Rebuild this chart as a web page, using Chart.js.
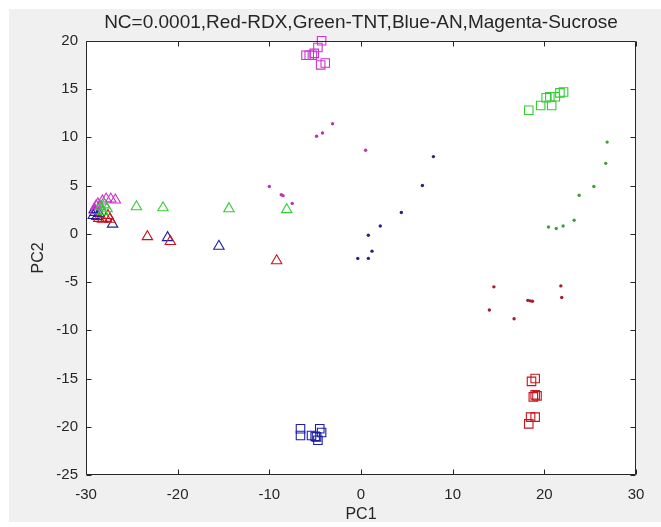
<!DOCTYPE html>
<html>
<head>
<meta charset="utf-8">
<script src="https://cdn.jsdelivr.net/npm/chart.js@4"></script>
<style>
  html, body { margin: 0; padding: 0; background: #ffffff; }
  #wrap { width: 661px; height: 527px; }
</style>
</head>
<body>
<div id="wrap"><canvas id="pcaChart" width="661" height="527"></canvas></div>
<script>
// axis ticks
const xTicks = [-30, -20, -10, 0, 10, 20, 30];
const yTicks = [-25, -20, -15, -10, -5, 0, 5, 10, 15, 20];

// squares
const redSquares = [[18.6, -15.3], [19.0, -15.0], [19.0, -16.7], [19.2, -16.8], [18.8, -16.9], [18.5, -19.0], [19.0, -19.0], [18.3, -19.7]];
const greenSquares = [[18.3, 12.8], [19.6, 13.3], [20.2, 14.1], [20.8, 13.3], [20.6, 14.2], [21.2, 14.2], [21.7, 14.6], [22.1, 14.7]];
const blueSquares = [[-6.6, -20.2], [-6.6, -20.9], [-5.4, -20.9], [-5.0, -21.0], [-4.5, -20.2], [-4.3, -20.6], [-4.85, -21.05], [-4.7, -21.4]];
const magentaSquares = [[-4.3, 20.0], [-4.7, 19.3], [-5.1, 18.7], [-6.0, 18.5], [-5.65, 18.5], [-5.3, 18.5], [-4.4, 17.5], [-3.9, 17.7]];

// dots
const redDots = [[14.5, -5.5], [14.0, -7.9], [16.7, -8.8], [18.2, -6.9], [18.7, -7.0], [21.8, -5.4], [21.9, -6.6], [18.45, -6.95]];
const greenDots = [[26.85, 9.5], [26.7, 7.3], [25.4, 4.9], [23.8, 4.0], [23.25, 1.4], [22.05, 0.8], [21.3, 0.55], [20.45, 0.7]];
const blueDots = [[7.9, 8.0], [6.7, 5.0], [4.4, 2.2], [2.1, 0.8], [0.8, -0.15], [1.2, -1.8], [-0.35, -2.55], [0.8, -2.55]];
const magentaDots = [[-3.1, 11.4], [-4.2, 10.45], [-4.85, 10.1], [0.5, 8.65], [-10.0, 4.9], [-8.7, 4.05], [-8.5, 3.95], [-7.5, 3.15]];

// triangles
const redTriangles = [[-28.6, 1.6], [-28.2, 1.5], [-27.8, 1.6], [-27.4, 1.5], [-27.6, 1.9], [-23.3, -0.3], [-20.8, -0.8], [-9.2, -2.8]];
const greenTriangles = [[-28.4, 2.8], [-28.0, 3.0], [-27.7, 2.6], [-28.2, 2.3], [-24.5, 2.8], [-21.6, 2.7], [-14.4, 2.6], [-8.1, 2.5]];
const blueTriangles = [[-29.2, 1.9], [-29.0, 2.2], [-28.8, 1.8], [-29.1, 2.5], [-28.6, 2.1], [-27.1, 1.0], [-21.1, -0.4], [-15.5, -1.3]];
const magentaTriangles = [[-28.9, 2.9], [-28.5, 2.8], [-28.2, 3.4], [-27.8, 3.6], [-27.3, 3.6], [-26.8, 3.5], [-29.0, 2.4], [-28.7, 3.1]];

const colors = {
    red: '#c8141e',
    green: '#33cc33',
    blue: '#1e1eaa',
    magenta: '#cc33cc'
};
const dotColors = {
    red: '#a01e30',
    green: '#3ea03e',
    blue: '#26267e',
    magenta: '#b03ab0'
};

const toPoints = arr => arr.map(p => ({ x: p[0], y: p[1] }));

function markerSet(data, color, style) {
    const dot = style === 'circle';
    const r = dot ? 1.7 : 6;
    return {
        data: toPoints(data),
        pointStyle: style,
        pointRadius: r,
        pointHoverRadius: r,
        borderWidth: dot ? 0 : 1.1,
        borderColor: color,
        backgroundColor: dot ? color : 'rgba(0,0,0,0)',
        showLine: false,
        clip: false
    };
}

// gray figure, white axes, box and inward ticks like MATLAB
const matlabFrame = {
    id: 'matlabFrame',
    beforeDraw(chart) {
        const { ctx, chartArea: a } = chart;
        ctx.save();
        ctx.fillStyle = '#f0f0f0';
        ctx.fillRect(9, 9, chart.width - 9, 522 - 9);
        ctx.fillStyle = '#ffffff';
        ctx.fillRect(a.left, a.top, a.right - a.left, a.bottom - a.top);
        ctx.restore();
    },
    afterDraw(chart) {
        const { ctx, chartArea: a, scales } = chart;
        const L = Math.round(a.left) + 0.5, R = Math.round(a.right) - 0.5;
        const T = Math.round(a.top) + 0.5, B = Math.round(a.bottom) - 0.5;
        ctx.save();
        ctx.strokeStyle = '#262626';
        ctx.lineWidth = 1;
        ctx.beginPath();
        scales.x.ticks.forEach(t => {
            const px = Math.round(scales.x.getPixelForValue(t.value)) + 0.5;
            ctx.moveTo(px, B); ctx.lineTo(px, B - 5);
            ctx.moveTo(px, T); ctx.lineTo(px, T + 5);
        });
        scales.y.ticks.forEach(t => {
            const py = Math.round(scales.y.getPixelForValue(t.value)) + 0.5;
            ctx.moveTo(L, py); ctx.lineTo(L + 5, py);
            ctx.moveTo(R, py); ctx.lineTo(R - 5, py);
        });
        ctx.rect(L, T, R - L, B - T);
        ctx.stroke();
        ctx.restore();
    }
};

const fontFamily = "'Liberation Sans', Arial, sans-serif";
const textColor = '#262626';

const config = {
    type: 'scatter',
    data: {
        datasets: [
            markerSet(redSquares, colors.red, 'rect'),
            markerSet(greenSquares, colors.green, 'rect'),
            markerSet(blueSquares, colors.blue, 'rect'),
            markerSet(magentaSquares, colors.magenta, 'rect'),
            markerSet(redDots, dotColors.red, 'circle'),
            markerSet(greenDots, dotColors.green, 'circle'),
            markerSet(blueDots, dotColors.blue, 'circle'),
            markerSet(magentaDots, dotColors.magenta, 'circle'),
            markerSet(greenTriangles, colors.green, 'triangle'),
            markerSet(magentaTriangles, colors.magenta, 'triangle'),
            markerSet(redTriangles, colors.red, 'triangle'),
            markerSet(blueTriangles, colors.blue, 'triangle')
        ]
    },
    options: {
        responsive: false,
        animation: false,
        layout: { padding: { left: 0, right: 25, top: 0, bottom: 0 } },
        plugins: {
            legend: { display: false },
            tooltip: { enabled: false },
            title: {
                display: true,
                fullSize: false,
                text: 'NC=0.0001,Red-RDX,Green-TNT,Blue-AN,Magenta-Sucrose',
                color: textColor,
                font: { family: fontFamily, size: 19, weight: 'normal', lineHeight: 1.2 },
                padding: { top: 11, bottom: 7 }
            }
        },
        scales: {
            x: {
                type: 'linear',
                min: -30,
                max: 30,
                afterBuildTicks(scale) { scale.ticks = xTicks.map(v => ({ value: v })); },
                afterFit(scale) { scale.height = 52; },
                grid: { display: false, drawTicks: false },
                border: { display: false },
                ticks: { color: textColor, padding: 11, font: { family: fontFamily, size: 15 } },
                title: {
                    display: true,
                    text: 'PC1',
                    color: textColor,
                    font: { family: fontFamily, size: 16, lineHeight: 1.2 },
                    padding: { top: 0, bottom: 3 }
                }
            },
            y: {
                type: 'linear',
                min: -25,
                max: 20,
                afterBuildTicks(scale) { scale.ticks = yTicks.map(v => ({ value: v })); },
                afterFit(scale) { scale.width = 86; },
                grid: { display: false, drawTicks: false },
                border: { display: false },
                ticks: { color: textColor, padding: 8, font: { family: fontFamily, size: 15 } },
                title: {
                    display: true,
                    text: 'PC2',
                    color: textColor,
                    font: { family: fontFamily, size: 16, lineHeight: 1.2 },
                    padding: { top: 29, bottom: 0 }
                }
            }
        }
    },
    plugins: [matlabFrame]
};

const ctx = document.getElementById('pcaChart').getContext('2d');
new Chart(ctx, config);
</script>
</body>
</html>
